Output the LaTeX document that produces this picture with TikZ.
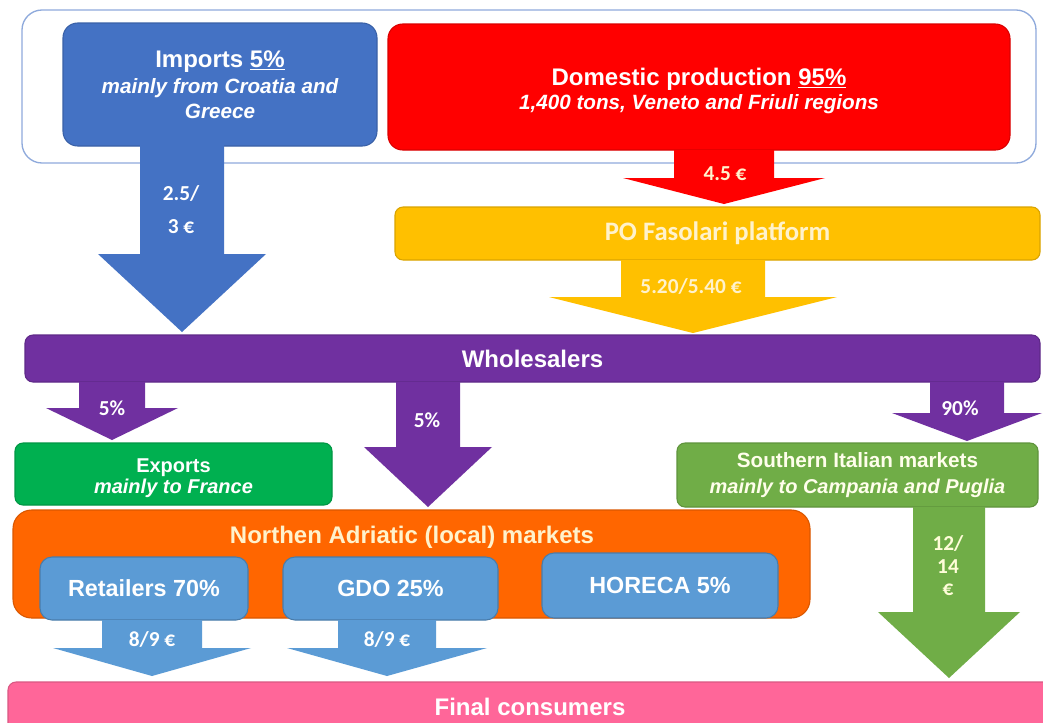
\documentclass[tikz,border=0pt]{standalone}
\usepackage{fontspec}
\setmainfont{Liberation Sans}
\newfontfamily\lab{Carlito}
\definecolor{framec}{HTML}{8FAADC}
\definecolor{impblue}{HTML}{4472C4}
\definecolor{domred}{HTML}{FF0000}
\definecolor{platy}{HTML}{FFC000}
\definecolor{purp}{HTML}{7030A0}
\definecolor{expgreen}{HTML}{00B050}
\definecolor{southgreen}{HTML}{70AD47}
\definecolor{nadorange}{HTML}{FF6600}
\definecolor{subblue}{HTML}{5B9BD5}
\definecolor{pinkc}{HTML}{FF6699}
\definecolor{cream}{HTML}{FFF2CC}
\newcommand\blockarrow[7]{\fill[#7] (#1-#5,#2) -- (#1+#5,#2) -- (#1+#5,#3) -- (#1+#6,#3) -- (#1,#4) -- (#1-#6,#3) -- (#1-#5,#3) -- cycle;}
\newcommand\subit{\itshape\fontsize{15.5}{17.5}\selectfont}
\tikzset{
  box/.style={inner sep=0pt, align=center, text=white, line width=0.8pt,
    font=\bfseries\fontsize{18}{18.5}\selectfont},
  btext/.style={inner sep=0pt, align=center, text=white, font=\bfseries\fontsize{18}{18.5}\selectfont},
  alab/.style={inner sep=0pt, text=white, font=\lab\bfseries\fontsize{16}{19}\selectfont},
}
\begin{document}
\begin{tikzpicture}[x=0.75pt,y=-0.75pt]
\clip (0,0) rectangle (1043,722);
\fill[white] (0,0) rectangle (1043,722);
% top frame
\node[draw=framec, line width=1pt, rounded corners=15pt, inner sep=0pt,
  minimum width=760.5pt, minimum height=114.75pt] (topframe) at (529,86.5) {};
\node[box, fill=impblue, draw=impblue!85!black, rounded corners=11pt,
  minimum width=235.5pt, minimum height=92.25pt] (imports) at (220,84.5)
  {Imports \underline{5\%}\\[1pt]\subit mainly from Croatia and\\\subit Greece};
\node[box, fill=domred, draw=domred!85!black, rounded corners=11pt,
  minimum width=466.5pt, minimum height=94.5pt] (dom) at (699,87) {};
\node[btext] (domtext) at (699,91)
  {Domestic production \underline{95\%}\\[0pt]\subit 1,400 tons, Veneto and Friuli regions};
\blockarrow{182}{145}{254}{332}{42}{84}{impblue}
\blockarrow{724}{150}{178}{204}{50}{101}{domred}
\node[alab] (l25) at (181,193) {2.5/};
\node[alab] (l3) at (181,227) {3 €};
\node[alab, text=cream] (l45) at (725,174) {4.5 €};
% platform
\node[box, fill=platy, draw=platy!85!black, rounded corners=6pt,
  font=\lab\bfseries\fontsize{20}{22}\selectfont, text=cream,
  minimum width=483.75pt, minimum height=39.75pt] (po) at (717.5,233.5) {PO Fasolari platform};
\blockarrow{693}{260}{297}{333}{72}{144}{platy}
\node[alab, text=cream] (l520) at (691,286) {5.20/5.40 €};
% wholesalers
\node[box, fill=purp, draw=purp!85!black, rounded corners=6pt,
  minimum width=761.25pt, minimum height=35.25pt] (whole) at (532.5,358.5) {Wholesalers};
\blockarrow{112}{382}{408}{440}{33}{66}{purp}
\blockarrow{428}{382}{447}{507}{32}{64}{purp}
\blockarrow{967}{382}{413}{441}{37}{75}{purp}
\node[alab] (p1) at (112,408) {5\%};
\node[alab] (p2) at (427,420) {5\%};
\node[alab] (p3) at (960,408) {90\%};
% exports & southern
\node[box, fill=expgreen, draw=expgreen!85!black, rounded corners=6pt,
  font=\bfseries\fontsize{15}{15.5}\selectfont,
  minimum width=237.75pt, minimum height=46.5pt] (exp) at (173.5,474) {};
\node[btext, font=\bfseries\fontsize{15}{15.5}\selectfont] (exptext) at (173.5,478) {Exports\\\itshape mainly to France};
\node[box, fill=southgreen, draw=southgreen!85!black, rounded corners=6pt,
  font=\bfseries\fontsize{15.5}{20}\selectfont, text=white!92!yellow,
  minimum width=270.75pt, minimum height=48pt] (south) at (857.5,475)
  {Southern Italian markets\\\itshape\fontsize{15}{20}\selectfont mainly to Campania and Puglia};
\blockarrow{949}{507}{612}{678}{36}{71}{southgreen}
\node[alab, text=white!85!yellow] (g1) at (948,543) {12/};
\node[alab, text=white!85!yellow] (g2) at (948,567) {14};
\node[alab, text=white!85!yellow] (g3) at (948,590) {€};
% northern adriatic
\node[box, fill=nadorange, draw=nadorange!85!black, rounded corners=14pt,
  minimum width=597.75pt, minimum height=81pt] (nad) at (411.5,564) {};
\node[inner sep=0pt, text=cream, font=\bfseries\fontsize{18}{21}\selectfont] (nadt) at (412,537) {Northen Adriatic (local) markets};
\node[box, fill=subblue, draw=subblue!80!black, rounded corners=9pt, font=\bfseries\fontsize{17.5}{20}\selectfont,
  minimum width=156pt, minimum height=47.25pt] (ret) at (144,588.5) {Retailers 70\%};
\node[box, fill=subblue, draw=subblue!80!black, rounded corners=9pt, font=\bfseries\fontsize{17.5}{20}\selectfont,
  minimum width=161.25pt, minimum height=47.25pt] (gdo) at (390.5,588.5) {GDO 25\%};
\node[box, fill=subblue, draw=subblue!80!black, rounded corners=9pt, font=\bfseries\fontsize{17.5}{20}\selectfont,
  minimum width=177pt, minimum height=48.75pt] (hor) at (660,585.5) {HORECA 5\%};
\blockarrow{152}{620}{648}{676}{50}{99}{subblue}
\blockarrow{387}{620}{648}{676}{49}{100}{subblue}
\node[alab] (b1) at (152,639) {8/9 €};
\node[alab] (b2) at (387,639) {8/9 €};
% final consumers
\node[box, fill=pinkc, draw=pinkc!85!black, rounded corners=6pt,
  minimum width=783pt, minimum height=37.5pt] (final) at (530,707) {Final consumers};
\end{tikzpicture}
\end{document}
